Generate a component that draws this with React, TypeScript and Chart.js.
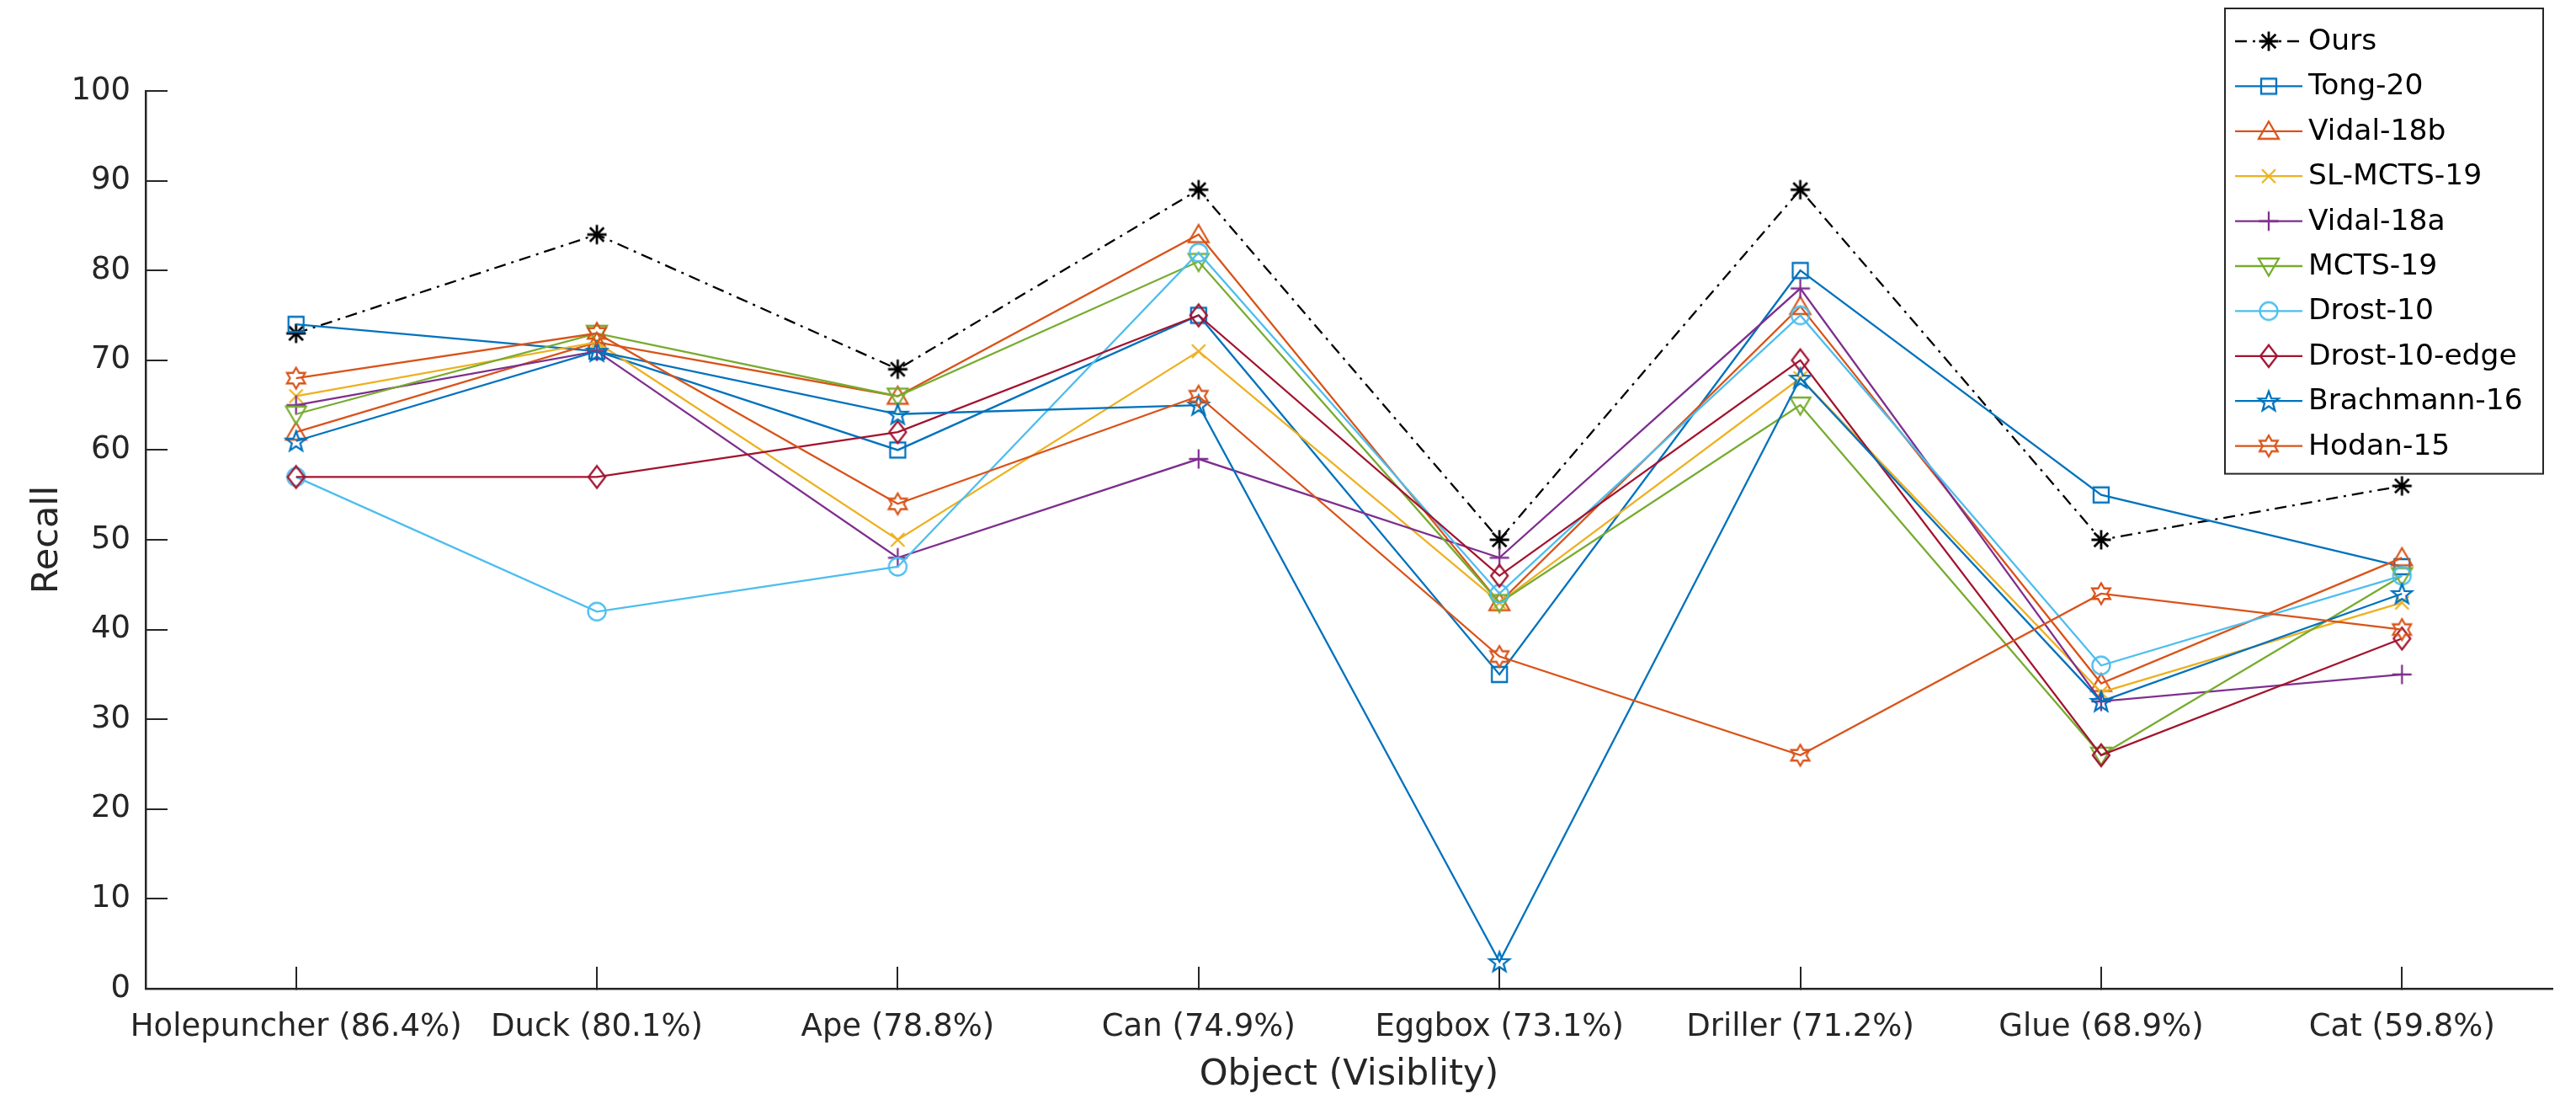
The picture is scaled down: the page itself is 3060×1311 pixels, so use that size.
import React, { useEffect, useRef } from 'react';
import { Chart, registerables } from 'chart.js';

Chart.register(...registerables);

// ---------- data ----------
const categories = [
  'Holepuncher (86.4%)',
  'Duck (80.1%)',
  'Ape (78.8%)',
  'Can (74.9%)',
  'Eggbox (73.1%)',
  'Driller (71.2%)',
  'Glue (68.9%)',
  'Cat (59.8%)',
];

const yMin = 0;
const yMax = 100;
const yStep = 10;

const seriesNames = [
  'Ours',
  'Tong-20',
  'Vidal-18b',
  'SL-MCTS-19',
  'Vidal-18a',
  'MCTS-19',
  'Drost-10',
  'Drost-10-edge',
  'Brachmann-16',
  'Hodan-15',
];

const ours = [73, 84, 69, 89, 50, 89, 50, 56];
const tong20 = [74, 71, 60, 75, 35, 80, 55, 47];
const vidal18b = [62, 72, 66, 84, 43, 76, 34, 48];
const slMcts19 = [66, 72, 50, 71, 43, 68, 33, 43];
const vidal18a = [65, 71, 48, 59, 48, 78, 32, 35];
const mcts19 = [64, 73, 66, 81, 43, 65, 26, 46];
const drost10 = [57, 42, 47, 82, 44, 75, 36, 46];
const drost10edge = [57, 57, 62, 75, 46, 70, 26, 39];
const brachmann16 = [61, 71, 64, 65, 3, 68, 32, 44];
const hodan15 = [68, 73, 54, 66, 37, 26, 44, 40];

const seriesValues = [ours, tong20, vidal18b, slMcts19, vidal18a, mcts19, drost10, drost10edge, brachmann16, hodan15];

// ---------- styles ----------
const seriesColors = [
  '#000000',
  '#0072BD',
  '#D95319',
  '#EDB120',
  '#7E2F8E',
  '#77AC30',
  '#4DBEEE',
  '#A2142F',
  '#0072BD',
  '#D95319',
];
const seriesMarkers = ['asterisk', 'square', 'triUp', 'x', 'plus', 'triDown', 'circle', 'diamond', 'pentagram', 'hexagram'];
const seriesDash: number[][] = [[14, 7, 3, 7], [], [], [], [], [], [], [], [], []];

const FONT = "'DejaVu Sans', 'Liberation Sans', sans-serif";
const AXIS_COLOR = '#262626';
const LINE_W = 2.3;

function starPath(g: CanvasRenderingContext2D, cx: number, cy: number, n: number, ro: number, ri: number) {
  for (let k = 0; k < 2 * n; k++) {
    const r = k % 2 === 0 ? ro : ri;
    const a = -Math.PI / 2 + (k * Math.PI) / n;
    const px = cx + r * Math.cos(a);
    const py = cy + r * Math.sin(a);
    if (k === 0) g.moveTo(px, py);
    else g.lineTo(px, py);
  }
  g.closePath();
}

function makeMarker(shape: string, color: string): HTMLCanvasElement {
  const size = 38;
  const c = document.createElement('canvas');
  c.width = size;
  c.height = size;
  const g = c.getContext('2d') as CanvasRenderingContext2D;
  const m = size / 2;
  g.strokeStyle = color;
  g.lineWidth = LINE_W;
  g.lineJoin = 'miter';
  g.beginPath();
  switch (shape) {
    case 'asterisk': {
      const r = 11.5;
      const d = r * 0.72;
      g.moveTo(m - r, m); g.lineTo(m + r, m);
      g.moveTo(m, m - r); g.lineTo(m, m + r);
      g.moveTo(m - d, m - d); g.lineTo(m + d, m + d);
      g.moveTo(m - d, m + d); g.lineTo(m + d, m - d);
      g.lineWidth = 2.8;
      break;
    }
    case 'square': {
      const h = 9;
      g.rect(m - h, m - h, 2 * h, 2 * h);
      break;
    }
    case 'triUp': {
      g.moveTo(m, m - 11.5);
      g.lineTo(m + 12, m + 9);
      g.lineTo(m - 12, m + 9);
      g.closePath();
      break;
    }
    case 'triDown': {
      g.moveTo(m, m + 11.5);
      g.lineTo(m + 12, m - 9);
      g.lineTo(m - 12, m - 9);
      g.closePath();
      break;
    }
    case 'x': {
      const h = 8;
      g.moveTo(m - h, m - h); g.lineTo(m + h, m + h);
      g.moveTo(m - h, m + h); g.lineTo(m + h, m - h);
      break;
    }
    case 'plus': {
      const h = 11.5;
      g.moveTo(m - h, m); g.lineTo(m + h, m);
      g.moveTo(m, m - h); g.lineTo(m, m + h);
      break;
    }
    case 'circle': {
      g.arc(m, m, 10.5, 0, Math.PI * 2);
      break;
    }
    case 'diamond': {
      g.moveTo(m, m - 13);
      g.lineTo(m + 10, m);
      g.lineTo(m, m + 13);
      g.lineTo(m - 10, m);
      g.closePath();
      break;
    }
    case 'pentagram': {
      starPath(g, m, m + 1, 5, 12.5, 5.2);
      break;
    }
    case 'hexagram': {
      starPath(g, m, m, 6, 12.5, 7.2);
      break;
    }
    default:
      break;
  }
  g.stroke();
  return c;
}

const legendPlugin = {
  id: 'matlabLegend',
  afterDraw(chart: any) {
    const ctx: CanvasRenderingContext2D = chart.ctx;
    const area = chart.chartArea;
    const boxW = 378;
    const boxRight = area.right - 11;
    const boxLeft = boxRight - boxW;
    const boxTop = 10;
    const rowH = 53.4;
    const firstRow = 49;
    const n = chart.data.datasets.length;
    const boxBottom = firstRow + (n - 1) * rowH + 33;
    ctx.save();
    ctx.fillStyle = '#ffffff';
    ctx.fillRect(boxLeft, boxTop, boxW, boxBottom - boxTop);
    ctx.strokeStyle = AXIS_COLOR;
    ctx.lineWidth = 2;
    ctx.strokeRect(boxLeft, boxTop, boxW, boxBottom - boxTop);
    ctx.font = `34.5px ${FONT}`;
    ctx.textBaseline = 'middle';
    ctx.textAlign = 'left';
    chart.data.datasets.forEach((ds: any, i: number) => {
      const y = firstRow + i * rowH;
      ctx.save();
      ctx.strokeStyle = ds.borderColor;
      ctx.lineWidth = LINE_W;
      ctx.setLineDash(ds.borderDash || []);
      ctx.beginPath();
      ctx.moveTo(boxLeft + 12, y);
      ctx.lineTo(boxLeft + 92, y);
      ctx.stroke();
      ctx.restore();
      const img = ds.pointStyle as HTMLCanvasElement;
      ctx.drawImage(img, boxLeft + 52 - img.width / 2, y - img.height / 2);
      ctx.fillStyle = '#000000';
      ctx.fillText(ds.label, boxLeft + 99, y + 1);
    });
    ctx.restore();
  },
};

export default function App() {
  const canvasRef = useRef<HTMLCanvasElement | null>(null);

  useEffect(() => {
    if (!canvasRef.current) return;
    const datasets = seriesNames.map((name, i) => ({
      label: name,
      data: seriesValues[i],
      borderColor: seriesColors[i],
      backgroundColor: seriesColors[i],
      borderWidth: LINE_W,
      borderDash: seriesDash[i],
      pointStyle: makeMarker(seriesMarkers[i], seriesColors[i]),
      pointRadius: 10,
      pointHoverRadius: 10,
      tension: 0,
      fill: false,
      order: seriesNames.length - i,
    }));

    const chart = new Chart(canvasRef.current, {
      type: 'line',
      data: { labels: categories, datasets: datasets as any },
      options: {
        responsive: true,
        maintainAspectRatio: false,
        animation: false,
        devicePixelRatio: 1,
        layout: { padding: { left: 0, right: 28, top: 108, bottom: 0 } },
        plugins: {
          legend: { display: false },
          tooltip: { enabled: false },
          title: { display: false },
        },
        scales: {
          x: {
            type: 'category',
            offset: true,
            grid: {
              display: true,
              offset: false,
              drawOnChartArea: false,
              drawTicks: true,
              tickLength: -26,
              color: AXIS_COLOR,
              lineWidth: 2,
            },
            border: { display: true, color: AXIS_COLOR, width: 2.5 },
            ticks: {
              color: AXIS_COLOR,
              font: { family: FONT, size: 37 },
              padding: 50,
              maxRotation: 0,
              minRotation: 0,
              autoSkip: false,
            },
            title: {
              display: true,
              text: 'Object (Visiblity)',
              color: AXIS_COLOR,
              font: { family: FONT, size: 43 },
              padding: { top: 0, bottom: 8 },
            },
            afterFit: (s: any) => {
              s.height = 137;
            },
          },
          y: {
            min: yMin,
            max: yMax,
            grid: {
              display: true,
              drawOnChartArea: false,
              drawTicks: true,
              tickLength: -26,
              color: AXIS_COLOR,
              lineWidth: 2,
            },
            border: { display: true, color: AXIS_COLOR, width: 2.5 },
            ticks: {
              stepSize: yStep,
              color: AXIS_COLOR,
              font: { family: FONT, size: 37 },
              padding: 44,
            },
            title: {
              display: true,
              text: 'Recall',
              color: AXIS_COLOR,
              font: { family: FONT, size: 43 },
              padding: { top: 31, bottom: 0 },
            },
            afterFit: (s: any) => {
              s.width = 173;
            },
          },
        },
      } as any,
      plugins: [legendPlugin],
    });
    return () => chart.destroy();
  }, []);

  return (
    <div style={{ position: 'fixed', left: 0, top: 0, width: 3060, height: 1311, background: '#ffffff' }}>
      <canvas ref={canvasRef} />
    </div>
  );
}
